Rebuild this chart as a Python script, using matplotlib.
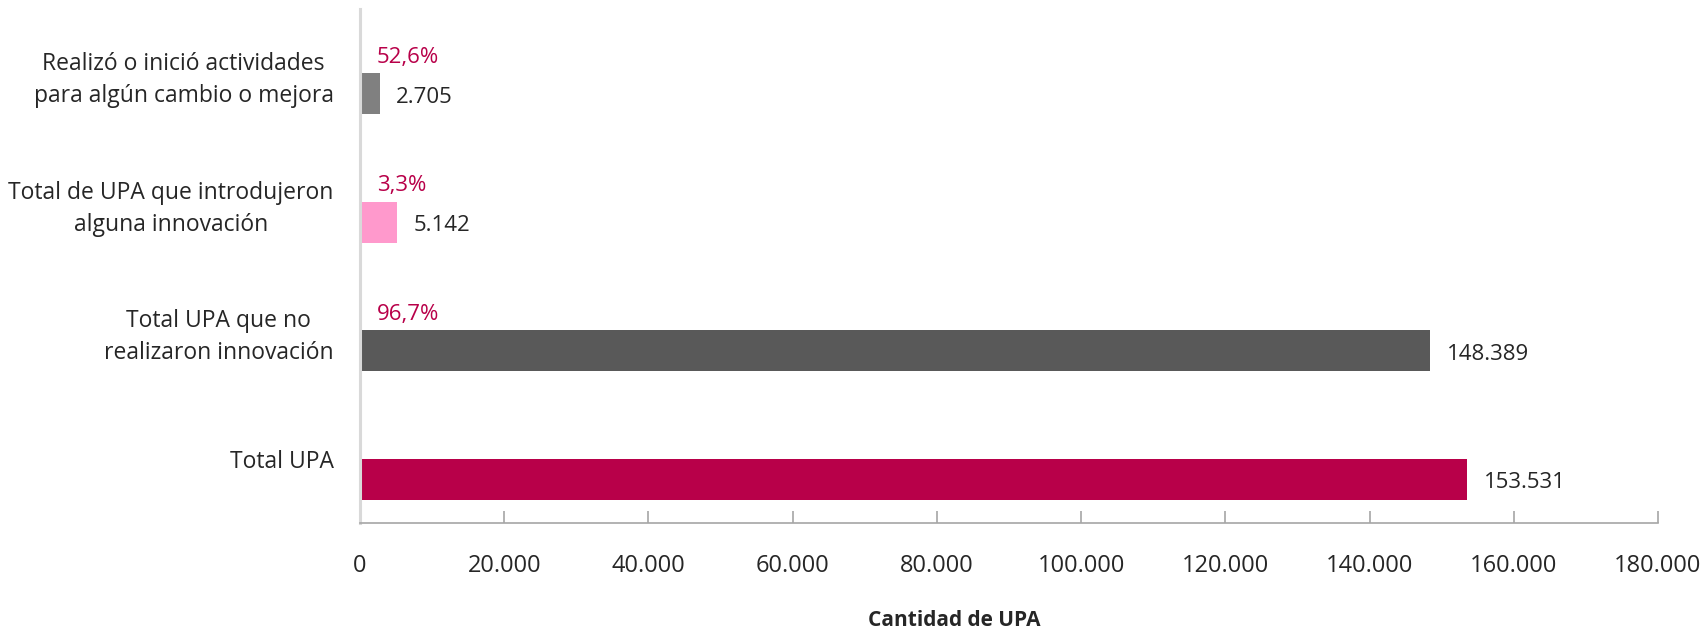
import matplotlib
matplotlib.use("Agg")
import matplotlib.pyplot as plt
from matplotlib.ticker import FuncFormatter

categories = ["Total UPA",
              "Total UPA que no\nrealizaron innovación",
              "Total de UPA que introdujeron\nalguna innovación",
              "Realizó o inició actividades\npara algún cambio o mejora"]
values = [153531, 148389, 5142, 2705]
percents = ["", "96,7%", "3,3%", "52,6%"]
colors = ["#B80049", "#595959", "#FF99CC", "#808080"]
xticks = [0, 20000, 40000, 60000, 80000, 100000, 120000, 140000, 160000, 180000]

plt.rcParams['font.family'] = ['Open Sans', 'DejaVu Sans']

fig = plt.figure(figsize=(17.04, 6.32), dpi=100)
ax = fig.add_axes([360/1704, 1-523/632, (1658-360)/1704, (523-9)/632])

ypos = list(range(len(categories)))
bar_h = 0.32
ax.barh(ypos, values, height=bar_h, color=colors, zorder=2)

ax.set_xlim(0, 180000)
ax.set_ylim(-0.34, 3.66)

def fmt(v, _=None):
    return f"{int(round(v)):,}".replace(",", ".")

ax.set_xticks(xticks)
ax.xaxis.set_major_formatter(FuncFormatter(fmt))
ax.tick_params(axis='x', direction='in', length=9, width=1.2, color='#A6A6A6',
               labelsize=17, labelcolor='#262626', pad=22)

ax.set_yticks([y + 0.16 for y in ypos])
ax.set_yticklabels(categories, fontsize=16.5, color='#262626', ha='right',
                   multialignment='center', linespacing=1.45)
ax.tick_params(axis='y', length=0, pad=19)

for s in ['top', 'right']:
    ax.spines[s].set_visible(False)
ax.spines['left'].set_color('#D9D9D9')
ax.spines['left'].set_linewidth(2.2)
ax.spines['bottom'].set_color('#A6A6A6')
ax.spines['bottom'].set_linewidth(1.2)

for y, v, p in zip(ypos, values, percents):
    ax.annotate(fmt(v), xy=(v, y), xytext=(12, -2.5), textcoords='offset points',
                ha='left', va='center', fontsize=16, color='#262626')
    if p:
        ax.annotate(p, xy=(0, y + bar_h / 2), xytext=(12, 11.5), textcoords='offset points',
                    ha='left', va='center', fontsize=16, color='#B80049')

ax.set_xlabel("Cantidad de UPA", fontsize=15, fontweight='bold', color='#262626')
ax.xaxis.label.set_va('center')
ax.xaxis.set_label_coords(0.458, -0.19)

fig.savefig("out.png", dpi=100)
